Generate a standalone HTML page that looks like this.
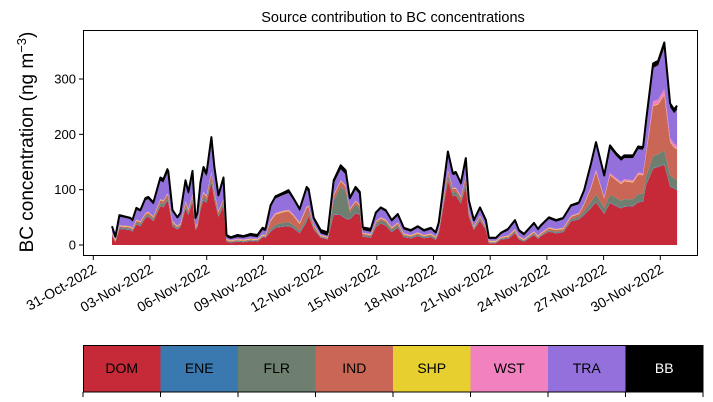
<!DOCTYPE html>
<html><head><meta charset="utf-8"><style>
body{margin:0;background:#fff;}
svg{display:block;font-family:"Liberation Sans","DejaVu Sans",sans-serif;}
</style></head><body>
<svg id="chart" width="713" height="402" viewBox="0 0 713 402">
<text x="393" y="22" text-anchor="middle" font-size="14.5">Source contribution to BC concentrations</text>
<text transform="translate(33,142) rotate(-90)" text-anchor="middle" font-size="19">BC concentration (ng m<tspan dy="-7" font-size="13">−3</tspan><tspan dy="7">)</tspan></text>
<g id="areas"></g>
<g id="yaxis"></g>
<g id="xaxis"></g>
<rect x="83.5" y="30.5" width="614" height="225" fill="none" stroke="#000" stroke-width="1"/>
<g id="legend"></g>
</svg>
<script>
const days=[0.99,1.17,1.38,1.96,2.07,2.28,2.49,2.76,2.91,3.18,3.55,3.71,3.92,3.97,4.19,4.45,4.61,4.88,5.03,5.25,5.41,5.51,5.67,5.83,5.99,6.25,6.41,6.62,6.89,
7.05,7.26,7.63,7.95,8.32,8.69,8.96,9.11,
9.38,9.64,10.02,10.33,10.55,10.92,11.29,
11.39,11.66,12.03,12.40,12.72,13.09,13.35,13.57,13.88,14.10,14.26,14.68,
14.95,15.21,15.47,15.79,16.11,16.43,16.80,17.17,17.49,17.86,18.12,18.28,
18.76,19.02,19.18,19.45,19.71,19.87,20.14,20.46,20.77,20.93,21.30,21.57,
21.94,22.31,22.52,22.79,23.32,23.53,23.69,24.11,24.48,24.86,25.28,25.70,
25.97,26.34,26.60,27.03,27.34,27.66,27.93,28.09,28.56,28.83,29.09,29.25,29.62,29.89,30.21,30.52,30.73,30.89];
const DOM=[17,5,29,27,24,37,34,49,51,43,70,68,80,77,34,28,32,66,54,78,27,32,64,81,76,113,81,51,70,
6,4,6,5,7,6,14,13,
24,31,33,34,31,21,42,
53,28,13,10,55,54,47,46,57,55,15,13,
32,39,35,23,31,14,12,16,12,14,9,21,
116,88,89,75,106,51,27,44,27,3,3,10,
11,21,10,6,18,11,16,24,21,23,43,46,
54,67,77,56,76,70,66,69,70,77,78,108,138,141,145,105,102,99];
const ENE=[1,1,1,1,1,1,1,1,1,1,1,1,1,1,1,1,1,1,1,1,1,1,1,1,1,1,1,1,1,
1,1,1,1,1,1,1,1, 1,1,1,1,1,1,1, 1,1,1,1,1,1,1,1,1,1,1,1, 1,1,1,1,1,1,1,1,1,1,1,1,
1,1,1,1,1,1,1,1,1,1,1,1, 1,1,1,1,1,1,1,1,1,1,1,1, 1,1,1,1,1,1,1,1,1,1,1,1,1,1,1,1,1,1];
const FLR=[2,1,2,2,2,3,3,3,3,3,5,5,5,5,3,2,2,5,4,5,2,2,5,6,5,8,6,4,5,
1,1,1,1,1,1,1,1,
4,5,6,6,5,4,6,
5,3,1,1,25,50,50,12,15,10,2,2,
5,5,5,4,4,2,2,2,2,2,2,3,
8,6,6,5,8,4,2,3,2,1,1,1,
1,2,1,1,2,1,1,2,2,2,3,4,
6,10,14,10,14,14,13,13,12,14,14,15,22,22,25,20,18,18];
const IND=[1,1,2,2,2,3,3,3,3,3,5,5,5,5,3,2,2,5,4,5,2,2,5,6,5,8,6,4,5,
1,1,1,1,1,1,1,1,
14,18,19,20,17,12,18,
10,3,1,1,8,10,8,5,5,5,2,2,
3,3,3,2,3,2,1,2,1,2,1,2,
8,6,6,5,8,4,2,3,2,1,1,1,
2,3,2,1,2,2,2,3,3,3,4,5,
12,25,40,17,35,32,30,32,30,35,33,40,90,90,100,60,55,55];
const SHP=[1,1,1,1,1,1,1,1,1,1,1,1,1,1,1,1,1,1,1,1,1,1,1,1,1,1,1,1,1,
1,1,1,1,1,1,1,1, 1,1,1,1,1,1,1, 1,1,1,1,1,1,1,1,1,1,1,1, 1,1,1,1,1,1,1,1,1,1,1,1,
1,1,1,1,1,1,1,1,1,1,1,1, 1,1,1,1,1,1,1,1,1,1,1,1, 1,1,1,1,1,1,1,1,1,1,1,1,1,1,1,1,1,1];
const WST=[1,1,1,1,1,1,1,1,1,1,1,1,1,1,1,1,1,1,1,1,1,1,1,1,1,1,1,1,1,
1,1,1,1,1,1,1,1, 2,2,2,2,2,2,2, 1,1,1,1,1,1,1,1,1,1,1,1, 1,1,1,1,1,1,1,1,1,1,1,1,
1,1,1,1,1,1,1,1,1,1,1,1, 1,1,1,1,1,1,1,1,1,1,1,1,
1,2,3,2,3,3,3,3,3,3,3,4,8,8,10,7,6,6];
const TRA=[9,4,15,13,12,18,17,23,23,21,33,32,37,36,17,13,16,32,26,36,13,16,31,38,35,53,38,24,33,
3,2,3,3,4,3,8,7,
22,26,28,30,26,20,30,
25,8,3,2,20,20,20,15,20,18,5,4,
13,15,14,10,12,7,6,8,6,7,5,9,
30,23,24,20,28,15,8,12,8,3,3,5,
9,13,8,6,12,9,11,15,13,15,16,16,
20,38,45,35,45,40,38,38,40,42,42,50,60,62,75,55,55,65];
const BB=[2,1,3,2,2,3,3,4,4,4,6,6,7,7,3,2,3,6,5,7,2,3,6,7,6,10,7,4,6,
4,3,4,3,4,4,4,4,
4,4,4,5,4,4,5,
5,4,6,6,6,7,7,4,5,5,5,5,
3,3,3,3,3,3,3,3,3,3,3,3,
4,4,4,4,4,4,3,3,3,2,2,2,
3,3,3,3,3,3,3,3,3,3,3,3,
4,4,5,4,5,5,5,5,5,5,5,6,8,8,9,7,7,7];
const seriesNames=["DOM","ENE","FLR","IND","SHP","WST","TRA","BB"];
const seriesColors=["#c62a38","#3a78b0","#6e7f70","#c96656","#e6cf2e","#f282bf","#9370db","#000000"];
const yTicks=[0,100,200,300];
const xTickDays=[0,3,6,9,12,15,18,21,24,27,30];
const xTickLabels=["31-Oct-2022","03-Nov-2022","06-Nov-2022","09-Nov-2022","12-Nov-2022","15-Nov-2022","18-Nov-2022","21-Nov-2022","24-Nov-2022","27-Nov-2022","30-Nov-2022"];

const NS="http://www.w3.org/2000/svg";
function xs(d){return 93.3+d*18.9;}
function ys(v){return 245-v*0.5533;}
function mk(tag,attrs,parent){const e=document.createElementNS(NS,tag);for(const k in attrs)e.setAttribute(k,attrs[k]);parent.appendChild(e);return e;}

const series=[DOM,ENE,FLR,IND,SHP,WST,TRA,BB];
const areas=document.getElementById('areas');
let base=days.map(()=>0);
series.forEach((s,si)=>{
  const top=base.map((b,i)=>b+s[i]);
  let d="M"+days.map((t,i)=>xs(t).toFixed(1)+","+ys(top[i]).toFixed(1)).join("L");
  for(let i=days.length-1;i>=0;i--)d+="L"+xs(days[i]).toFixed(1)+","+ys(base[i]).toFixed(1);
  d+="Z";
  const p=mk('path',{d:d,fill:seriesColors[si],stroke:'none'},areas);
  
  
  base=top;
});
const tl=mk('path',{d:"M"+days.map((t,i)=>xs(t).toFixed(1)+","+ys(base[i]).toFixed(1)).join("L"),fill:'none',stroke:'#000','stroke-width':2,'stroke-linejoin':'round'},areas);



const ya=document.getElementById('yaxis');
yTicks.forEach(v=>{
  const y=ys(v);
  const l=mk('line',{x1:79,x2:83,y1:y,y2:y,stroke:'#000'},ya);
  
  
  const t=mk('text',{x:76,y:y+4.5,'text-anchor':'end','font-size':13},ya);
  t.textContent=v;
  
  
});
const xa=document.getElementById('xaxis');
xTickDays.forEach((d,i)=>{
  const x=xs(d);
  const l=mk('line',{x1:x,x2:x,y1:256,y2:260,stroke:'#000'},xa);
  
  
  const t=mk('text',{transform:`translate(${x+4},${272}) rotate(-30)`,'text-anchor':'end','font-size':14},xa);
  t.textContent=xTickLabels[i];
  
  
});

const lg=document.getElementById('legend');
const cw=(703-83)/8;
seriesNames.forEach((n,i)=>{
  const x=83+i*cw;
  const r=mk('rect',{x:x,y:345,width:cw+0.5,height:47,fill:seriesColors[i]},lg);
  
  
  const t=mk('text',{x:x+cw/2,y:373,'text-anchor':'middle','font-size':14,fill:n==="BB"?"#fff":"#000"},lg);
  t.textContent=n;
  
  
});
for(let i=0;i<=8;i++){
  const x=83+i*cw;
  const l=mk('line',{x1:x,x2:x,y1:392,y2:397,stroke:'#000'},lg);
  
  
}
const fr=mk('rect',{x:83.5,y:345.5,width:619,height:46.5,fill:'none',stroke:'#000'},lg);


</script>
</body></html>
